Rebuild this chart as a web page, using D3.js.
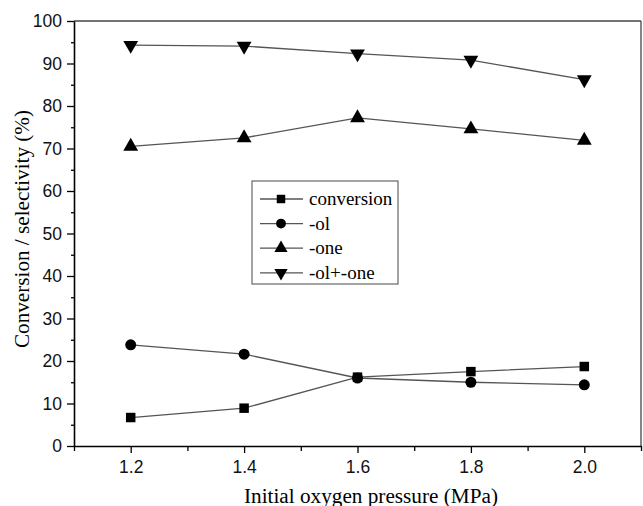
<!DOCTYPE html>
<html><head><meta charset="utf-8">
<script src="https://cdn.jsdelivr.net/npm/d3@7"></script>
<style>body{margin:0;background:#fff}</style>
</head><body>
<svg id="c" width="643" height="506"></svg>
<script>
const pressures = [1.2, 1.4, 1.6, 1.8, 2.0];
const conversion = [6.7, 8.9, 16.2, 17.5, 18.7];
const ol = [23.8, 21.6, 16.0, 15.0, 14.4];
const one = [70.5, 72.5, 77.2, 74.6, 71.9];
const olPlusOne = [94.3, 94.1, 92.3, 90.8, 86.2];
const seriesNames = ["conversion", "-ol", "-one", "-ol+-one"];
const xTicks = [1.2, 1.4, 1.6, 1.8, 2.0];
const yTicks = [0, 10, 20, 30, 40, 50, 60, 70, 80, 90, 100];

const svg = d3.select("#c");
const L = 74, R = 641, T = 21, B = 446;
const x = d3.scaleLinear().domain([1.1, 2.1]).range([L, R]);
const y = d3.scaleLinear().domain([0, 100]).range([B, T]);

// frame
svg.append("line").attr("x1", L).attr("x2", R).attr("y1", T).attr("y2", T).attr("stroke", "#444").attr("stroke-width", 1.3);
svg.append("line").attr("x1", R).attr("x2", R).attr("y1", T).attr("y2", B).attr("stroke", "#444").attr("stroke-width", 1.3);

const tickFont = "'Liberation Sans', Arial, sans-serif";
// y axis
const yAx = svg.append("g").attr("transform", `translate(${L},0)`)
  .call(d3.axisLeft(y).tickValues(yTicks).tickSize(7).tickSizeOuter(0).tickFormat(d3.format("d")).tickPadding(5));
yAx.select(".domain").attr("stroke-width", 1.6);
yAx.selectAll("text").attr("font-family", tickFont).attr("font-size", 17.5).attr("fill", "#111");
svg.append("g").attr("transform", `translate(${L},0)`)
  .call(d3.axisLeft(y).tickValues(d3.range(5, 100, 10)).tickSize(3).tickFormat(""))
  .select(".domain").remove();

// x axis
const xAx = svg.append("g").attr("transform", `translate(0,${B})`)
  .call(d3.axisBottom(x).tickValues(xTicks).tickSize(7).tickSizeOuter(0).tickFormat(d3.format(".1f")).tickPadding(8));
xAx.select(".domain").attr("stroke-width", 1.6);
xAx.selectAll("text").attr("font-family", tickFont).attr("font-size", 17.5).attr("fill", "#111");
svg.append("g").attr("transform", `translate(0,${B})`)
  .call(d3.axisBottom(x).tickValues([1.1, 1.3, 1.5, 1.7, 1.9, 2.1]).tickSize(5).tickFormat(""))
  .select(".domain").remove();
svg.selectAll(".tick line").attr("stroke-width", 1.3);

// titles
const serif = "'Liberation Serif', 'Times New Roman', serif";
svg.append("text").attr("x", 244).attr("y", 503)
  .attr("textLength", 254).attr("lengthAdjust", "spacingAndGlyphs")
  .attr("font-family", serif).attr("font-size", 20).text("Initial oxygen pressure (MPa)");
svg.append("text").attr("transform", `translate(29,348) rotate(-90)`)
  .attr("textLength", 238).attr("lengthAdjust", "spacingAndGlyphs")
  .attr("font-family", serif).attr("font-size", 20).text("Conversion / selectivity (%)");

const data = [conversion, ol, one, olPlusOne];
const symbols = [d3.symbolSquare, d3.symbolCircle, d3.symbolTriangle, d3.symbolTriangle];
const sizes = [90, 95, 95, 95];
const rot = [0, 0, 0, 180];
const line = d3.line().x((d, i) => x(pressures[i])).y(d => y(d));

data.forEach((vals, k) => {
  svg.append("path").attr("d", line(vals)).attr("fill", "none").attr("stroke", "#555").attr("stroke-width", 1.3);
});
data.forEach((vals, k) => {
  svg.selectAll(null).data(vals).enter().append("path")
    .attr("d", d3.symbol().type(symbols[k]).size(sizes[k]))
    .attr("transform", (d, i) => `translate(${x(pressures[i])},${y(d)}) rotate(${rot[k]})`)
    .attr("fill", "#000");
});

// legend
const lg = svg.append("g");
lg.append("rect").attr("x", 252).attr("y", 181).attr("width", 146).attr("height", 103)
  .attr("fill", "#fff").attr("stroke", "#666").attr("stroke-width", 1.2);
seriesNames.forEach((name, k) => {
  const yy = 199 + k * 24.6;
  lg.append("line").attr("x1", 260).attr("x2", 303).attr("y1", yy).attr("y2", yy).attr("stroke", "#555").attr("stroke-width", 1.3);
  lg.append("path").attr("d", d3.symbol().type(symbols[k]).size(sizes[k] * 0.8))
    .attr("transform", `translate(281,${yy}) rotate(${rot[k]})`).attr("fill", "#000");
  lg.append("text").attr("x", 309).attr("y", yy + 6).attr("font-family", serif).attr("font-size", 19).text(name);
});
</script>
</body></html>
